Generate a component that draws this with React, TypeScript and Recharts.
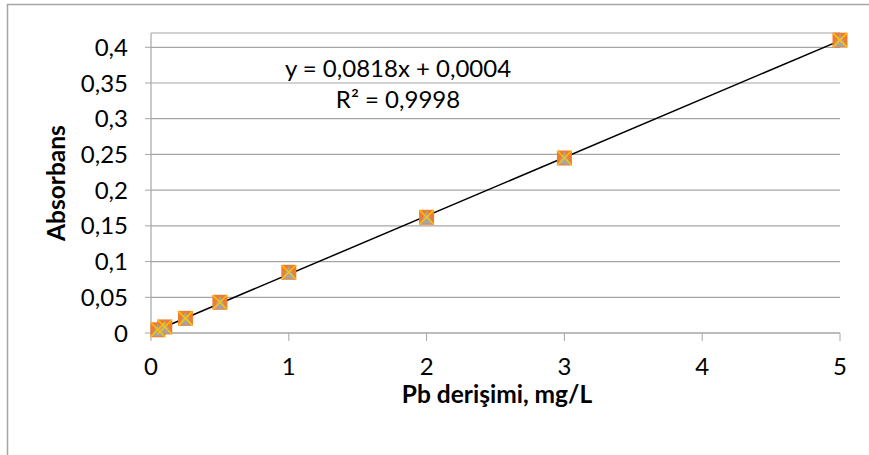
import React from 'react';
import {
  ComposedChart,
  Scatter,
  Line,
  XAxis,
  YAxis,
  CartesianGrid,
  Label,
} from 'recharts';

// Calibration data: Pb concentration (mg/L) vs absorbance
const concentrations = [0.05, 0.1, 0.25, 0.5, 1, 2, 3, 5];
const absorbances = [0.0045, 0.0085, 0.0205, 0.043, 0.085, 0.162, 0.245, 0.41];

// Linear trendline endpoints (y = 0,0818x + 0,0004)
const trendX = [0.05, 5];
const trendY = [0.0045, 0.4094];

const xTicks = [0, 1, 2, 3, 4, 5];
const yTicks = [0, 0.05, 0.1, 0.15, 0.2, 0.25, 0.3, 0.35, 0.4];

const equationText = 'y = 0,0818x + 0,0004';
const r2Text = 'R² = 0,9998';
const xTitle = 'Pb derişimi, mg/L';
const yTitle = 'Absorbans';

const points = concentrations.map((x, i) => ({ x, y: absorbances[i] }));
const trend = trendX.map((x, i) => ({ x, y: trendY[i] }));

const FONT = 'Lato, "Open Sans", sans-serif';
const GRID = '#A6A6A6';
const TICK_FS = 24;
const TITLE_FS = 24.5;

const SquareShape = (props: any) => {
  const { cx, cy } = props;
  if (cx == null || cy == null) return <g />;
  return <rect x={cx - 7.5} y={cy - 7.5} width={15} height={15} fill="#ED7D31" />;
};
const TriangleShape = (props: any) => {
  const { cx, cy } = props;
  if (cx == null || cy == null) return <g />;
  return (
    <polygon
      points={`${cx},${cy - 6.5} ${cx + 6.5},${cy + 6.5} ${cx - 6.5},${cy + 6.5}`}
      fill="#A5A5A5"
    />
  );
};
const CrossShape = (props: any) => {
  const { cx, cy } = props;
  if (cx == null || cy == null) return <g />;
  const s = 7;
  return (
    <g stroke="#FFC000" strokeWidth={1.5}>
      <line x1={cx - s} y1={cy - s} x2={cx + s} y2={cy + s} />
      <line x1={cx - s} y1={cy + s} x2={cx + s} y2={cy - s} />
    </g>
  );
};

const fmt = (v: number) => String(v).replace('.', ',');

const textStyle: React.CSSProperties = {
  position: 'absolute',
  transform: 'translate(-50%, -50%)',
  fontFamily: FONT,
  fontSize: TICK_FS,
  color: '#000',
  whiteSpace: 'nowrap',
  lineHeight: 1,
};

export default function App() {
  return (
    <div
      style={{
        position: 'absolute',
        left: 0,
        top: 0,
        width: 869,
        height: 455,
        background: '#fff',
      }}
    >
      <svg
        width={869}
        height={455}
        style={{ position: 'absolute', left: 0, top: 0 }}
      >
        <line x1={7} y1={4.5} x2={869} y2={4.5} stroke="#A6A6A6" strokeWidth={1.5} />
        <line x1={7.5} y1={4} x2={7.5} y2={455} stroke="#A6A6A6" strokeWidth={1.5} />
      </svg>
      <div style={{ position: 'absolute', left: 0, top: 0 }}>
        <ComposedChart
          width={869}
          height={455}
          margin={{ top: 33, right: 29, left: 0, bottom: 0 }}
        >
          <CartesianGrid vertical={false} stroke={GRID} strokeWidth={1.2} />
          <XAxis
            type="number"
            dataKey="x"
            domain={[0, 5]}
            ticks={xTicks}
            interval={0}
            height={122}
            tickSize={8}
            tickMargin={17}
            stroke={GRID}
            tickLine={{ stroke: GRID }}
            axisLine={{ stroke: GRID, strokeWidth: 1.2 }}
            tick={{ fill: '#000', fontSize: TICK_FS, fontFamily: FONT }}
          >
            <Label
              content={() => (
                <text
                  x={497}
                  y={403}
                  textAnchor="middle"
                  fontFamily={FONT}
                  fontSize={TITLE_FS}
                  fontWeight="bold"
                  fill="#000"
                >
                  {xTitle}
                </text>
              )}
            />
          </XAxis>
          <YAxis
            type="number"
            dataKey="y"
            domain={[0, 0.42]}
            ticks={yTicks}
            interval={0}
            width={151}
            tickSize={6}
            tickMargin={17}
            tickFormatter={fmt}
            stroke={GRID}
            tickLine={{ stroke: GRID }}
            axisLine={{ stroke: GRID, strokeWidth: 1.2 }}
            tick={{ fill: '#000', fontSize: TICK_FS, fontFamily: FONT }}
          >
            <Label
              content={() => (
                <text
                  x={65}
                  y={183}
                  transform="rotate(-90, 65, 183)"
                  textAnchor="middle"
                  fontFamily={FONT}
                  fontSize={TITLE_FS}
                  fontWeight="bold"
                  fill="#000"
                >
                  {yTitle}
                </text>
              )}
            />
          </YAxis>
          <Scatter data={points} dataKey="y" shape={SquareShape} isAnimationActive={false} />
          <Scatter data={points} dataKey="y" shape={TriangleShape} isAnimationActive={false} />
          <Scatter data={points} dataKey="y" shape={CrossShape} isAnimationActive={false} />
          <Line
            data={trend}
            dataKey="y"
            type="linear"
            dot={false}
            activeDot={false}
            stroke="#000"
            strokeWidth={1.5}
            isAnimationActive={false}
          />
        </ComposedChart>
      </div>
      <div style={{ ...textStyle, left: 398, top: 68 }}>{equationText}</div>
      <div style={{ ...textStyle, left: 398, top: 99 }}>{r2Text}</div>
    </div>
  );
}
